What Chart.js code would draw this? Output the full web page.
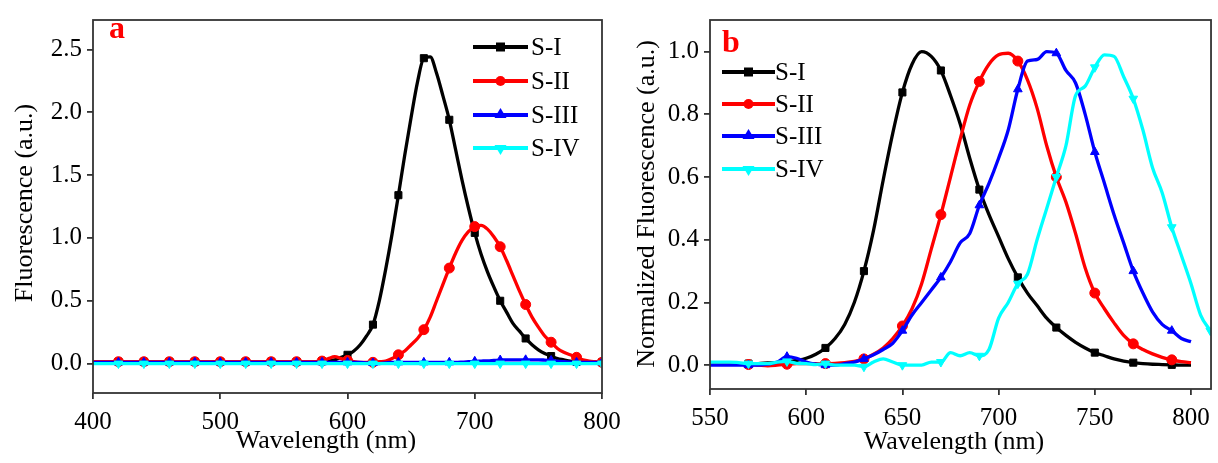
<!DOCTYPE html>
<html>
<head>
<meta charset="utf-8">
<script src="https://cdn.jsdelivr.net/npm/chart.js@4.4.0/dist/chart.umd.min.js"></script>
<style>
  body { margin: 0; background: #fff; }
  #wrap { position: relative; width: 1218px; height: 463px; overflow: hidden; }
  .box { position: absolute; top: 0; height: 463px; }
  #boxA { left: 0; width: 640px; }
  #boxB { left: 610px; width: 608px; }
</style>
</head>
<body>
<div id="wrap">
  <div class="box" id="boxA"><canvas id="chartA"></canvas></div>
  <div class="box" id="boxB"><canvas id="chartB"></canvas></div>
</div>
<script>
// ---- panel a : raw fluorescence ----
const wlA = [400, 410, 420, 430, 440, 450, 460, 470, 480, 490, 500, 510, 520, 530, 540, 550, 560, 570,
  575, 580, 585, 590, 595, 600, 605, 610, 615, 620, 625, 630, 635, 640, 645, 650, 655, 660, 665, 670,
  675, 680, 685, 690, 695, 700, 705, 710, 715, 720, 725, 730, 735, 740, 745, 750, 755, 760, 765, 770,
  775, 780, 785, 790, 795, 800];
const sIa = [0.015, 0.015, 0.015, 0.015, 0.015, 0.015, 0.015, 0.015, 0.015, 0.015, 0.015, 0.015, 0.015, 0.015, 0.015, 0.015, 0.015, 0.015,
  0.015, 0.02, 0.025, 0.03, 0.05, 0.07, 0.1, 0.15, 0.22, 0.31, 0.5, 0.75, 1.03, 1.34, 1.66, 1.96, 2.24, 2.43, 2.44, 2.31,
  2.13, 1.94, 1.7, 1.46, 1.24, 1.04, 0.87, 0.73, 0.61, 0.5, 0.41, 0.32, 0.26, 0.2, 0.15, 0.11, 0.08, 0.06, 0.04, 0.03,
  0.02, 0.015, 0.01, 0.01, 0.01, 0.01];
const sIIa = [0.015, 0.015, 0.015, 0.015, 0.015, 0.015, 0.015, 0.015, 0.015, 0.015, 0.015, 0.015, 0.015, 0.015, 0.015, 0.015, 0.015, 0.015,
  0.015, 0.02, 0.04, 0.055, 0.04, 0.025, 0.015, 0.01, 0.01, 0.01, 0.015, 0.02, 0.04, 0.07, 0.1, 0.15, 0.2, 0.27, 0.37, 0.5,
  0.63, 0.76, 0.88, 0.98, 1.05, 1.09, 1.1, 1.07, 1.01, 0.93, 0.82, 0.7, 0.58, 0.47, 0.37, 0.29, 0.22, 0.17, 0.12, 0.09,
  0.07, 0.05, 0.03, 0.02, 0.015, 0.01];
const sIIIa = [0.01, 0.01, 0.01, 0.01, 0.01, 0.01, 0.01, 0.01, 0.01, 0.01, 0.01, 0.01, 0.01, 0.01, 0.01, 0.01, 0.01, 0.01,
  0.01, 0.01, 0.01, 0.01, 0.01, 0.01, 0.01, 0.01, 0.005, 0.005, 0.0, 0.005, 0.01, 0.01, 0.01, 0.01, 0.01, 0.01, 0.01, 0.01,
  0.01, 0.01, 0.01, 0.012, 0.015, 0.018, 0.02, 0.022, 0.025, 0.028, 0.03, 0.03, 0.03, 0.03, 0.03, 0.03, 0.028, 0.025, 0.02, 0.015,
  0.012, 0.01, 0.01, 0.01, 0.01, 0.01];
const sIVa = [0, 0, 0, 0, 0, 0, 0, 0, 0, 0, 0, 0, 0, 0, 0, 0, 0, 0,
  0, 0, 0, 0, 0, 0, 0, 0, 0, 0, 0, 0, 0, 0, 0, 0, 0, 0, 0, 0,
  0, 0, 0, 0, 0, 0, 0, 0, 0, 0, 0, 0, 0, 0, 0, 0, 0, 0, 0, 0,
  0, 0, 0, 0, 0, 0];
const xTicksA = [400, 500, 600, 700, 800];
const yTicksA = [0.0, 0.5, 1.0, 1.5, 2.0, 2.5];

// ---- panel b : normalized ----
const wlB = [550, 555, 560, 565, 570, 575, 580, 585, 590, 595, 600, 605, 610, 615, 620, 625, 630, 635, 640, 645,
  650, 655, 660, 665, 670, 675, 680, 685, 690, 695, 700, 705, 710, 715, 720, 725, 730, 735, 740, 745,
  750, 755, 760, 765, 770, 775, 780, 785, 790, 795, 800, 805, 810];
const sIb = [0.005, 0.005, 0.005, 0.005, 0.005, 0.005, 0.007, 0.008, 0.01, 0.015,
  0.022, 0.035, 0.055, 0.085, 0.13, 0.2, 0.3, 0.43, 0.59, 0.74,
  0.87, 0.96, 1.0, 0.985, 0.94, 0.86, 0.77, 0.66, 0.56, 0.48,
  0.41, 0.34, 0.28, 0.23, 0.19, 0.15, 0.12, 0.095, 0.073, 0.055,
  0.04, 0.03, 0.02, 0.013, 0.008, 0.005, 0.003, 0.002, 0.001, 0,
  0, null, null];
const sIIb = [0.003, 0.003, 0.003, 0.003, 0.002, 0.0, -0.002, 0.0, 0.003, 0.005,
  0.005, 0.005, 0.005, 0.006, 0.008, 0.012, 0.02, 0.035, 0.055, 0.085,
  0.125, 0.18, 0.26, 0.37, 0.48, 0.6, 0.72, 0.83, 0.905, 0.96,
  0.99, 0.995, 0.97, 0.91, 0.82, 0.7, 0.6, 0.52, 0.42, 0.31,
  0.23, 0.18, 0.135, 0.095, 0.068, 0.05, 0.036, 0.025, 0.017, 0.011,
  0.008, null, null];
const sIIIb = [0, 0, 0, 0, 0, 0, 0.003, 0.01, 0.027, 0.022,
  0.01, 0.003, 0, 0, 0.005, 0.01, 0.02, 0.033, 0.05, 0.07,
  0.11, 0.16, 0.2, 0.24, 0.28, 0.33, 0.39, 0.42, 0.51, 0.58,
  0.66, 0.75, 0.88, 0.97, 0.975, 1.0, 0.995, 0.94, 0.9, 0.8,
  0.68, 0.58, 0.48, 0.39, 0.3, 0.23, 0.17, 0.13, 0.11, 0.085,
  0.075, null, null];
const sIVb = [0.01, 0.01, 0.01, 0.008, 0.005, 0.005, 0.005, 0.01, 0.012, 0.006,
  0.005, 0.002, 0.005, 0, 0, 0, -0.005, 0.01, 0.02, 0.01,
  0, 0, 0, 0.01, 0.01, 0.04, 0.03, 0.04, 0.03, 0.05,
  0.15, 0.2, 0.26, 0.29, 0.4, 0.5, 0.6, 0.7, 0.86, 0.89,
  0.95, 0.99, 0.985, 0.92, 0.85, 0.75, 0.63, 0.55, 0.44, 0.35,
  0.26, 0.16, 0.11];
const xTicksB = [550, 600, 650, 700, 750, 800];
const yTicksB = [0.0, 0.2, 0.4, 0.6, 0.8, 1.0];

const seriesNames = ['S-I', 'S-II', 'S-III', 'S-IV'];
const colors = ['#000000', '#ff0000', '#0000ff', '#00ffff'];
const styles = ['rect', 'circle', 'triangle', 'triangle'];
const rotations = [0, 0, 0, 180];

const FONT = 'Liberation Serif';

function makeSets(xs, lists, markerTest) {
  return lists.map((ys, i) => ({
    label: seriesNames[i],
    data: xs.map((x, j) => ({ x: x, y: ys[j] })),
    borderColor: colors[i],
    backgroundColor: colors[i],
    borderWidth: 3.3,
    pointStyle: styles[i],
    rotation: rotations[i],
    pointRadius: ctx => (ctx.raw && markerTest(ctx.raw.x) ? 5 : 0),
    pointBorderWidth: 1,
    cubicInterpolationMode: 'monotone',
    spanGaps: false,
    order: 4 - i
  }));
}

// frame, legend, panel letter and axis titles drawn on top
const decor = {
  id: 'decor',
  afterDraw(chart, args, o) {
    const ctx = chart.ctx;
    const a = chart.chartArea;
    ctx.save();
    ctx.strokeStyle = '#333';
    ctx.lineWidth = 1.8;
    ctx.strokeRect(a.left, a.top, a.right - a.left, a.bottom - a.top);

    // legend
    ctx.font = '25px "' + FONT + '"';
    ctx.textBaseline = 'middle';
    ctx.textAlign = 'left';
    chart.data.datasets.forEach((ds, i) => {
      const y = o.legY[i];
      ctx.strokeStyle = ds.borderColor;
      ctx.lineWidth = 3.8;
      ctx.beginPath();
      ctx.moveTo(o.legX0, y);
      ctx.lineTo(o.legX1, y);
      ctx.stroke();
      const mx = (o.legX0 + o.legX1) / 2;
      ctx.fillStyle = ds.borderColor;
      ctx.beginPath();
      if (ds.pointStyle === 'rect') {
        ctx.rect(mx - 4.5, y - 4.5, 9, 9);
      } else if (ds.pointStyle === 'circle') {
        ctx.arc(mx, y, 5, 0, Math.PI * 2);
      } else if (ds.rotation === 180) {
        ctx.moveTo(mx - 6, y - 3); ctx.lineTo(mx + 6, y - 3); ctx.lineTo(mx, y + 7);
      } else {
        ctx.moveTo(mx - 6, y + 3); ctx.lineTo(mx + 6, y + 3); ctx.lineTo(mx, y - 7);
      }
      ctx.closePath();
      ctx.fill();
      ctx.fillStyle = '#000';
      ctx.fillText(ds.label, o.legText, y + 1);
    });

    // panel letter
    ctx.fillStyle = '#ff0000';
    ctx.font = 'bold 32px "' + FONT + '"';
    ctx.textBaseline = 'alphabetic';
    ctx.fillText(o.letter, o.letterX, o.letterY);

    // axis titles
    ctx.fillStyle = '#000';
    ctx.font = '26px "' + FONT + '"';
    ctx.textAlign = 'center';
    ctx.fillText(chart.options.scales.x.title.text, o.xtX, o.xtY);
    ctx.translate(o.ytX, o.ytY);
    ctx.rotate(-Math.PI / 2);
    ctx.textBaseline = 'middle';
    ctx.fillText(chart.options.scales.y.title.text, 0, 0);
    ctx.restore();
  }
};

function makeChart(id, sets, xr, yr, xt, yt, xTitle, yTitle, pad, yW, xH, deco) {
  return new Chart(document.getElementById(id), {
    type: 'line',
    data: { datasets: sets },
    options: {
      responsive: true,
      maintainAspectRatio: false,
      animation: false,
      layout: { padding: pad },
      plugins: { legend: { display: false }, tooltip: { enabled: false }, decor: deco },
      elements: { line: { tension: 0.4 } },
      scales: {
        x: {
          type: 'linear', min: xr[0], max: xr[1],
          afterBuildTicks: s => { s.ticks = xt.map(v => ({ value: v })); },
          afterFit: s => { s.height = xH; },
          title: { display: false, text: xTitle },
          border: { display: false },
          grid: { drawOnChartArea: false, drawTicks: true, tickLength: 6, color: '#333', lineWidth: 1.8 },
          ticks: { color: '#000', font: { family: FONT, size: 25 }, padding: 8, maxRotation: 0 }
        },
        y: {
          type: 'linear', min: yr[0], max: yr[1],
          afterBuildTicks: s => { s.ticks = yt.map(v => ({ value: v })); },
          afterFit: s => { s.width = yW; },
          title: { display: false, text: yTitle },
          border: { display: false },
          grid: { drawOnChartArea: false, drawTicks: true, tickLength: 6, color: '#333', lineWidth: 1.8 },
          ticks: { color: '#000', font: { family: FONT, size: 25 }, padding: 5, callback: v => v.toFixed(1) }
        }
      }
    },
    plugins: [decor]
  });
}

makeChart('chartA',
  makeSets(wlA, [sIa, sIIa, sIIIa, sIVa], x => x > 400 && x % 20 === 0),
  [400, 800], [-0.234, 2.734], xTicksA, yTicksA,
  'Wavelength (nm)', 'Fluorescence (a.u.)',
  { left: 0, right: 38, top: 13, bottom: 0 }, 93, 70,
  { legX0: 473, legX1: 528, legText: 531, legY: [47, 81, 115, 148],
    letter: 'a', letterX: 109, letterY: 38, xtX: 326, xtY: 448, ytX: 25, ytY: 203 });

makeChart('chartB',
  makeSets(wlB, [sIb, sIIb, sIIIb, sIVb], x => x >= 570 && (x - 570) % 20 === 0),
  [550, 810.4], [-0.076, 1.101], xTicksB, yTicksB,
  'Wavelength (nm)', 'Normalized Fluorescence (a.u.)',
  { left: 0, right: 5, top: 17, bottom: 0 }, 100, 74,
  { legX0: 112, legX1: 165, legText: 165, legY: [72, 104, 136, 169],
    letter: 'b', letterX: 112, letterY: 52, xtX: 344, xtY: 449, ytX: 37, ytY: 204 });
</script>
</body>
</html>
